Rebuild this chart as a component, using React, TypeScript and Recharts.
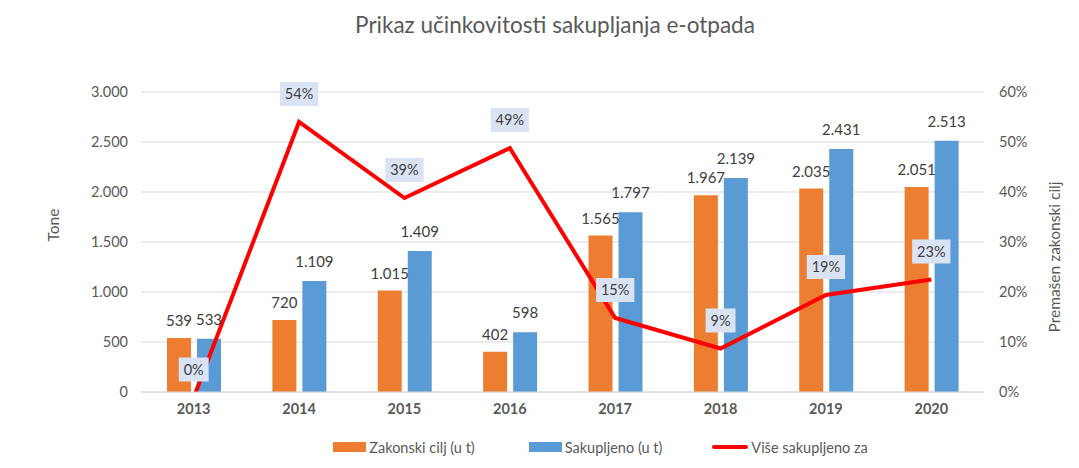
import React from "react";
import {
  ComposedChart, Bar, Line, XAxis, YAxis, CartesianGrid, Legend, LabelList
} from "recharts";

// podaci procitani sa slike
const years = ["2013", "2014", "2015", "2016", "2017", "2018", "2019", "2020"];
const zakonskiCilj = [539, 720, 1015, 402, 1565, 1967, 2035, 2051];
const sakupljeno = [533, 1109, 1409, 598, 1797, 2139, 2431, 2513];
const viseSakupljeno = [-0.011, 0.54, 0.388, 0.488, 0.148, 0.087, 0.194, 0.225];

const seriesNames = ["Zakonski cilj (u t)", "Sakupljeno (u t)", "Više sakupljeno za"];
const leftTicks = [0, 500, 1000, 1500, 2000, 2500, 3000];
const rightTicks = [0, 0.1, 0.2, 0.3, 0.4, 0.5, 0.6];

const data = years.map((y, i) => ({
  godina: y,
  cilj: zakonskiCilj[i],
  sakupljeno: sakupljeno[i],
  vise: viseSakupljeno[i],
}));

const FONT = "Lato, 'Open Sans', sans-serif";
const GREY = "#595959";

const fmtThousands = (v: any) =>
  String(v).replace(/\B(?=(\d{3})+(?!\d))/g, ".");
const fmtPct = (v: any) => Math.max(0, Math.round(v * 100)) + "%";

const lineLabel = (props: any) => {
  const { x, y, value } = props;
  const txt = fmtPct(value);
  const w = 10 + (txt.length - 1) * 8.4 + 11.5;
  const h = 24;
  const cy = y - 28;
  return (
    <g>
      <rect x={x - w / 2} y={cy - h / 2} width={w} height={h} fill="#DAE3F3" />
      <text x={x} y={cy} dy="0.36em" textAnchor="middle" fontSize={14.5}
        fontFamily={FONT} fill="#404040">{txt}</text>
    </g>
  );
};

const renderLegend = (props: any) => {
  const payload = [...(props.payload || [])].sort(
    (a: any, b: any) => seriesNames.indexOf(a.value) - seriesNames.indexOf(b.value)
  );
  return (
    <div style={{
      display: "flex", justifyContent: "center", alignItems: "center",
      height: 24, paddingLeft: 122, fontFamily: FONT, fontSize: 14.5, color: GREY,
    }}>
      {payload.map((p: any, i: number) => (
        <div key={i} style={{ display: "flex", alignItems: "center", marginRight: i === 0 ? 54 : i === 1 ? 50 : 0 }}>
          {p.type === "line" ? (
            <span style={{ display: "inline-block", width: 36, height: 4, background: p.color, marginRight: 3, borderRadius: 2 }} />
          ) : (
            <span style={{ display: "inline-block", width: 33, height: 10, background: p.color, marginRight: 3 }} />
          )}
          <span>{p.value}</span>
        </div>
      ))}
    </div>
  );
};

const leftTitle = (props: any) => {
  const { viewBox } = props;
  const cx = 54;
  const cy = viewBox.y + viewBox.height / 2 - 17;
  return (
    <text x={cx} y={cy} transform={`rotate(-90 ${cx} ${cy})`} textAnchor="middle"
      dy="0.35em" fontSize={15.5} fontFamily={FONT} fill={GREY}>Tone</text>
  );
};

const rightTitle = (props: any) => {
  const { viewBox } = props;
  const cx = 1055;
  const cy = viewBox.y + viewBox.height / 2 + 15;
  return (
    <text x={cx} y={cy} transform={`rotate(-90 ${cx} ${cy})`} textAnchor="middle"
      dy="0.35em" fontSize={15.5} fontFamily={FONT} fill={GREY}>Premašen zakonski cilj</text>
  );
};

export default function App() {
  return (
    <div style={{ position: "absolute", left: 0, top: 0, width: 1079, height: 468, background: "#fff" }}>
      <div style={{
        position: "absolute", left: 0, top: 11, width: 1110, textAlign: "center",
        fontFamily: FONT, fontSize: 22.5, color: GREY,
      }}>
        Prikaz učinkovitosti sakupljanja e-otpada
      </div>
      <ComposedChart
        width={1079}
        height={468}
        data={data}
        margin={{ top: 92, right: 0, bottom: 9, left: 0 }}
        barSize={24}
        barGap={6}
      >
        <CartesianGrid yAxisId="left" vertical={false} stroke="#D9D9D9" />
        <XAxis dataKey="godina" tickLine={false} axisLine={{ stroke: "#D9D9D9" }}
          height={43} tickSize={0} tickMargin={12}
          tick={{ fontSize: 14.5, fontWeight: 700, fill: GREY, fontFamily: FONT }} />
        <YAxis yAxisId="left" width={141} domain={[0, 3000]} ticks={leftTicks}
          tickFormatter={fmtThousands} tickLine={false} axisLine={false}
          tickSize={0} tickMargin={13}
          tick={{ fontSize: 14.5, fill: GREY, fontFamily: FONT }}
          label={{ content: leftTitle }} />
        <YAxis yAxisId="right" orientation="right" width={95} domain={[0, 0.6]}
          ticks={rightTicks} allowDataOverflow tickFormatter={fmtPct}
          tickLine={false} axisLine={false} tickSize={0} tickMargin={15}
          tick={{ fontSize: 14.5, fill: GREY, fontFamily: FONT, textAnchor: "start" }}
          label={{ content: rightTitle }} />
        <Legend verticalAlign="bottom" content={renderLegend} />
        <Bar yAxisId="left" dataKey="cilj" name={seriesNames[0]} fill="#ED7D31"
          isAnimationActive={false}>
          <LabelList dataKey="cilj" position="top" offset={12} formatter={fmtThousands}
            style={{ fontSize: 15, fill: "#404040", fontFamily: FONT }} />
        </Bar>
        <Bar yAxisId="left" dataKey="sakupljeno" name={seriesNames[1]} fill="#5B9BD5"
          isAnimationActive={false}>
          <LabelList dataKey="sakupljeno" position="top" offset={14} formatter={fmtThousands}
            style={{ fontSize: 15, fill: "#404040", fontFamily: FONT }} />
        </Bar>
        <Line yAxisId="right" dataKey="vise" name={seriesNames[2]} type="linear"
          stroke="#FF0000" strokeWidth={4} dot={false} legendType="line"
          isAnimationActive={false}>
          <LabelList dataKey="vise" content={lineLabel} />
        </Line>
      </ComposedChart>
    </div>
  );
}
